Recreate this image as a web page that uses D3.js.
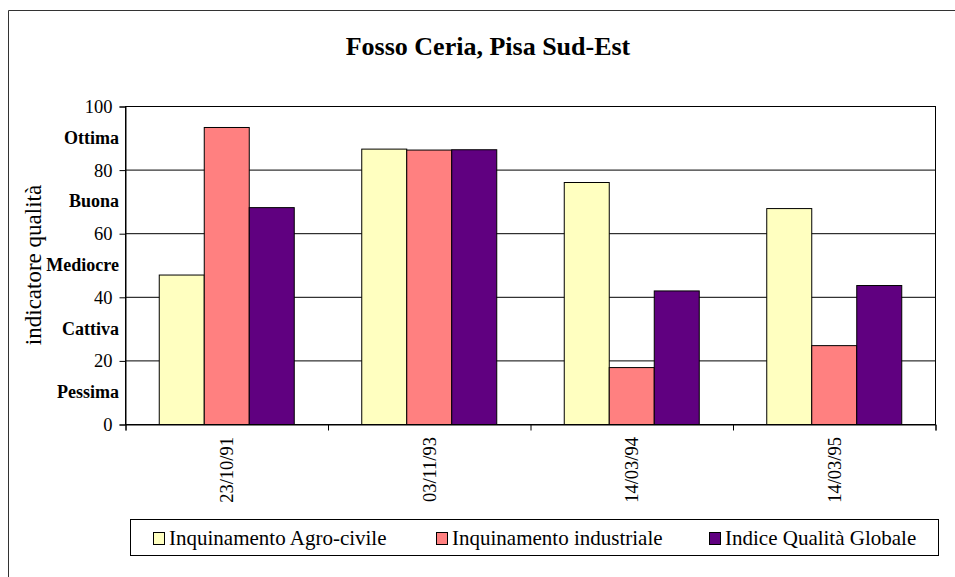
<!DOCTYPE html>
<html>
<head>
<meta charset="utf-8">
<script src="https://cdn.jsdelivr.net/npm/d3@7"></script>
<style>
  body { margin: 0; background: #fff; }
  text { font-family: "Liberation Serif", "Times New Roman", serif; }
</style>
</head>
<body>
<svg width="955" height="577"></svg>
<script>
// Chart data
var categories = ['23/10/91', '03/11/93', '14/03/94', '14/03/95'];
var agroCivile = [47.0, 86.6, 76.1, 67.9];
var industriale = [93.4, 86.3, 17.9, 24.8];
var globale = [68.2, 86.4, 42.0, 43.7];
var seriesNames = ['Inquinamento Agro-civile', 'Inquinamento industriale', 'Indice Qualità Globale'];
var seriesColors = ['#FFFFC0', '#FF8080', '#600080'];
var yTicks = [0, 20, 40, 60, 80, 100];
var qualityNames = ['Ottima', 'Buona', 'Mediocre', 'Cattiva', 'Pessima'];
var qualityValues = [90, 70, 50, 30, 10];

var series = [agroCivile, industriale, globale];

var svg = d3.select('svg');

// outer frame (only top and left edges visible)
svg.append('path')
  .attr('d', 'M8.5,577 V10.5 H955')
  .attr('fill', 'none')
  .attr('stroke', '#333')
  .attr('stroke-width', 1);

// plot area
var plot = {left: 125, right: 935, top: 106, bottom: 424};

var x = d3.scaleBand().domain(categories).range([plot.left, plot.right]);
var x1 = d3.scaleBand().domain(d3.range(3)).range([0, x.bandwidth()]).paddingOuter(0.75).paddingInner(0);
var y = d3.scaleLinear().domain([0, 100]).range([plot.bottom, plot.top]);
var xEdges = d3.scaleLinear().domain([0, categories.length]).range([plot.left, plot.right]);

// title
svg.append('text')
  .attr('x', 488).attr('y', 55)
  .attr('text-anchor', 'middle')
  .attr('font-size', 26).attr('font-weight', 'bold')
  .text('Fosso Ceria, Pisa Sud-Est');

// grid lines
svg.append('g').selectAll('line')
  .data(yTicks.filter(d => d > 0 && d < 100)).enter()
  .append('line')
  .attr('x1', plot.left).attr('x2', plot.right)
  .attr('y1', d => y(d) + 0.5).attr('y2', d => y(d) + 0.5)
  .attr('stroke', '#000');

// plot border
svg.append('rect')
  .attr('x', plot.left + 0.5).attr('y', plot.top + 0.5)
  .attr('width', plot.right - plot.left).attr('height', plot.bottom - plot.top)
  .attr('fill', 'none').attr('stroke', '#000');

// bars
var groups = svg.append('g').selectAll('g')
  .data(categories).enter()
  .append('g')
  .attr('transform', d => 'translate(' + x(d) + ',0)');

groups.selectAll('rect')
  .data((d, i) => series.map((s, k) => ({k: k, v: s[i]}))).enter()
  .append('rect')
  .attr('x', d => x1(d.k) + 0.5)
  .attr('y', d => y(d.v) + 0.5)
  .attr('width', x1.bandwidth())
  .attr('height', d => plot.bottom - y(d.v))
  .attr('fill', d => seriesColors[d.k])
  .attr('stroke', '#000');

// y axis
var yAxis = svg.append('g')
  .attr('transform', 'translate(' + (plot.left + 0.5) + ',0.5)')
  .call(d3.axisLeft(y).tickValues(yTicks).tickSize(6).tickPadding(7));
yAxis.select('.domain').attr('stroke', '#000');
yAxis.selectAll('line').attr('stroke', '#000');
yAxis.selectAll('text')
  .attr('font-size', 18.5).attr('fill', '#000')
  .attr('font-family', '"Liberation Serif", serif');

// x axis: ticks between categories
var xAxis = svg.append('g')
  .attr('transform', 'translate(0.5,' + (plot.bottom + 0.5) + ')')
  .call(d3.axisBottom(xEdges).tickValues(d3.range(categories.length + 1)).tickFormat('').tickSize(6));
xAxis.select('.domain').attr('stroke', '#000');
xAxis.selectAll('line').attr('stroke', '#000');

svg.append('g').selectAll('text')
  .data(categories).enter()
  .append('text')
  .attr('transform', d => 'translate(' + (x(d) + x.bandwidth() / 2 + 7) + ',437) rotate(-90)')
  .attr('text-anchor', 'end')
  .attr('font-size', 18.5)
  .text(d => d);

// quality labels
svg.append('g').selectAll('text')
  .data(qualityNames).enter()
  .append('text')
  .attr('x', 119)
  .attr('y', (d, i) => y(qualityValues[i]) + 6)
  .attr('text-anchor', 'end')
  .attr('font-size', 18).attr('font-weight', 'bold')
  .text(d => d);

// y axis title
svg.append('text')
  .attr('transform', 'translate(41,' + ((plot.top + plot.bottom) / 2) + ') rotate(-90)')
  .attr('text-anchor', 'middle')
  .attr('font-size', 23)
  .text('indicatore qualità');

// legend
var legend = svg.append('g');
legend.append('rect')
  .attr('x', 130.5).attr('y', 519.5)
  .attr('width', 808).attr('height', 36)
  .attr('fill', '#fff').attr('stroke', '#000');

var legendX = [153, 436, 709];
var items = legend.selectAll('g.item')
  .data(seriesNames).enter()
  .append('g')
  .attr('transform', (d, i) => 'translate(' + legendX[i] + ',532)');
items.append('rect')
  .attr('x', 0.5).attr('y', 0.5)
  .attr('width', 11).attr('height', 12)
  .attr('fill', (d, i) => seriesColors[i])
  .attr('stroke', '#000');
items.append('text')
  .attr('x', 16).attr('y', 13)
  .attr('font-size', 21)
  .text(d => d);
</script>
</body>
</html>
